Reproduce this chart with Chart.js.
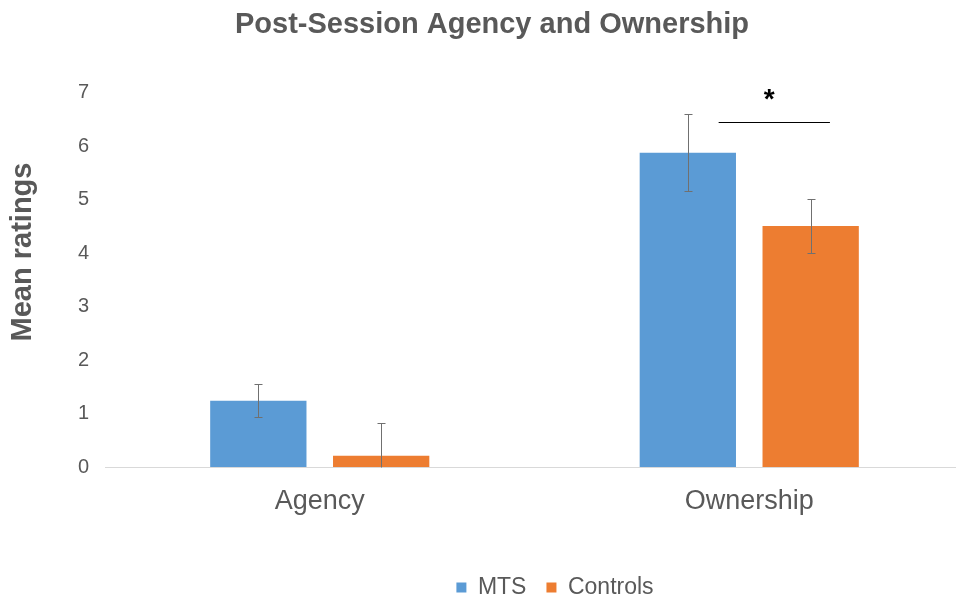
<!DOCTYPE html>
<html>
<head>
<meta charset="utf-8">
<script src="https://cdn.jsdelivr.net/npm/chart.js@4.4.1/dist/chart.umd.min.js"></script>
<style>
html, body { margin: 0; padding: 0; background: #fff; overflow: hidden; }
#wrap { width: 964px; height: 600px; }
</style>
</head>
<body>
<div id="wrap"><canvas id="chart"></canvas></div>
<script>
var categories = ['Agency', 'Ownership']
var mtsMeans = [1.24, 5.88]
var mtsErrors = [0.31, 0.72]
var controlsMeans = [0.21, 4.51]
var controlsErrors = [0.61, 0.5]
var yMin = 0
var yMax = 7
var sigIndex = 1       // Ownership
var sigLineLevel = 6.45
var sigStarLevel = 6.72
var sigText = '*'

var FONT = "'Liberation Sans', Arial, sans-serif"
var GREY = '#595959'

// error bars + significance marker drawn from the bar elements
var extras = {
    id: 'extras',
    afterLayout: function(chart) {
        // nudge title and legend to where the original had them
        chart.titleBlock.left += 10
        chart.titleBlock.right += 10
        chart.legend.left += 73
        chart.legend.right += 73
        chart.legend.top += 9
        chart.legend.bottom += 9
    },
    afterDatasetsDraw: function(chart) {
        var ctx = chart.ctx
        var y = chart.scales.y
        ctx.save()
        ctx.strokeStyle = '#707070'
        ctx.lineWidth = 1
        chart.data.datasets.forEach(function(ds, i) {
            chart.getDatasetMeta(i).data.forEach(function(bar, j) {
                var v = ds.data[j]
                var e = ds.errors[j]
                var x = Math.round(bar.x) + 0.5
                var top = Math.round(y.getPixelForValue(v + e)) + 0.5
                var bottom = Math.round(y.getPixelForValue(Math.max(yMin, v - e))) + 0.5
                ctx.beginPath()
                ctx.moveTo(x, top)
                ctx.lineTo(x, bottom)
                ctx.moveTo(x - 4, top)
                ctx.lineTo(x + 4, top)
                if (v - e >= yMin) {
                    ctx.moveTo(x - 4, bottom)
                    ctx.lineTo(x + 4, bottom)
                }
                ctx.stroke()
            })
        })

        // significance bracket
        var a = chart.getDatasetMeta(0).data[sigIndex]
        var b = chart.getDatasetMeta(1).data[sigIndex]
        var x1 = a.x + a.width * 0.32
        var x2 = b.x + b.width * 0.2
        var ly = Math.round(y.getPixelForValue(sigLineLevel)) + 0.5
        ctx.strokeStyle = '#000'
        ctx.beginPath()
        ctx.moveTo(x1, ly)
        ctx.lineTo(x2, ly)
        ctx.stroke()
        ctx.fillStyle = '#000'
        ctx.font = 'bold 28px ' + FONT
        ctx.textAlign = 'center'
        ctx.textBaseline = 'alphabetic'
        ctx.fillText(sigText, (x1 + x2) / 2 - 5, y.getPixelForValue(sigStarLevel))

        // y axis title (placed like the original, not centred on the axis)
        ctx.fillStyle = GREY
        ctx.font = 'bold 29px ' + FONT
        ctx.translate(23, 252)
        ctx.rotate(-Math.PI / 2)
        ctx.textBaseline = 'middle'
        ctx.fillText('Mean ratings', 0, 0)
        ctx.restore()
    }
}

var ctx = document.getElementById('chart').getContext('2d')

var chart = new Chart(ctx, {
    type: 'bar',
    data: {
        labels: categories,
        datasets: [{
            label: 'MTS',
            data: mtsMeans,
            errors: mtsErrors,
            backgroundColor: '#5B9BD5',
            borderWidth: 0
        }, {
            label: 'Controls',
            data: controlsMeans,
            errors: controlsErrors,
            backgroundColor: '#ED7D31',
            borderWidth: 0
        }]
    },
    options: {
        responsive: true,
        maintainAspectRatio: false,
        animation: false,
        categoryPercentage: 0.572,
        barPercentage: 0.784,
        layout: { padding: 0 },
        scales: {
            x: {
                grid: { display: false },
                border: { display: true, color: '#d9d9d9', width: 1 },
                ticks: {
                    color: GREY,
                    padding: 10,
                    font: { family: FONT, size: 27 }
                },
                afterFit: function(scale) {
                    scale.height = 600 - 467 - scale.chart.legend.height
                }
            },
            y: {
                min: yMin,
                max: yMax,
                grid: { display: false, drawTicks: false },
                border: { display: false },
                ticks: {
                    stepSize: 1,
                    color: GREY,
                    padding: 16,
                    font: { family: FONT, size: 20 }
                },
                afterFit: function(scale) {
                    scale.width = 105
                }
            }
        },
        plugins: {
            tooltip: { enabled: false },
            title: {
                display: true,
                text: 'Post-Session Agency and Ownership',
                color: GREY,
                font: { family: FONT, size: 29, weight: 'bold' },
                padding: { top: 8, bottom: 50 }
            },
            legend: {
                position: 'bottom',
                labels: {
                    boxWidth: 10,
                    boxHeight: 10,
                    padding: 20,
                    color: GREY,
                    font: { family: FONT, size: 23 }
                }
            }
        }
    },
    plugins: [extras]
})
</script>
</body>
</html>
